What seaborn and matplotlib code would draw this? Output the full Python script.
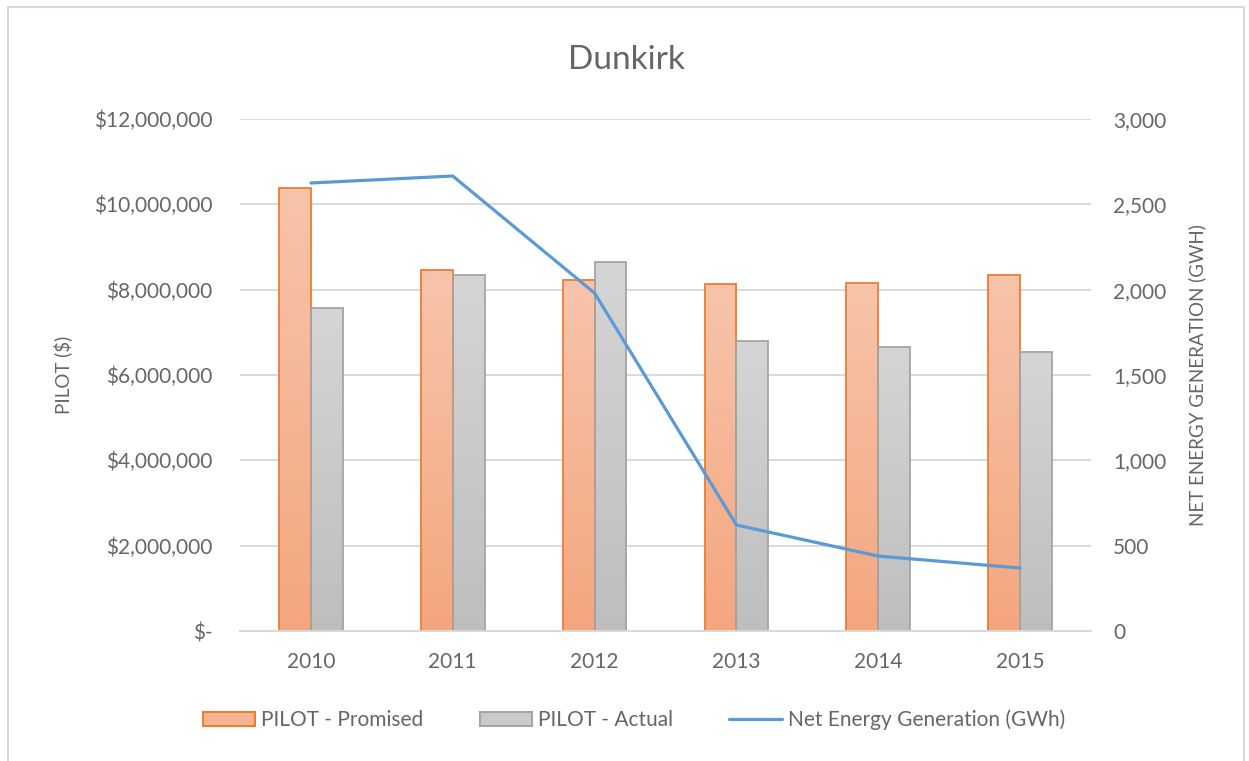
import numpy as np
import pandas as pd
import matplotlib
matplotlib.use("Agg")
import matplotlib.pyplot as plt
import matplotlib.patches as mpatches
from matplotlib.lines import Line2D
from matplotlib.colors import LinearSegmentedColormap
from matplotlib.ticker import FuncFormatter, MultipleLocator
import seaborn as sns

# data
years = ["2010", "2011", "2012", "2013", "2014", "2015"]
pilot_promised = [10390000, 8460000, 8230000, 8130000, 8160000, 8340000]
pilot_actual = [7570000, 8340000, 8650000, 6800000, 6660000, 6540000]
net_energy_gwh = [2625, 2666, 1980, 621, 439, 369]
series_names = ["PILOT - Promised", "PILOT - Actual"]
line_name = "Net Energy Generation (GWh)"

TEXT = "#666666"
GRID = "#D9D9D9"
ORANGE_EDGE = "#ED7D31"
GRAY_EDGE = "#A5A5A5"
BLUE = "#5B9BD5"
grad_colors = {
    "PILOT - Promised": ("#F7C4AB", "#F4A67F"),
    "PILOT - Actual": ("#D5D5D5", "#BEBEBE"),
}
edge_colors = {"PILOT - Promised": ORANGE_EDGE, "PILOT - Actual": GRAY_EDGE}

sns.set_style("white")
plt.rcParams["font.family"] = ["Lato", "DejaVu Sans"]

df = pd.DataFrame({
    "year": years * 2,
    "pilot": pilot_promised + pilot_actual,
    "series": [series_names[0]] * len(years) + [series_names[1]] * len(years),
})

fig = plt.figure(figsize=(12.49, 7.61), dpi=100)
ax = fig.add_axes([240 / 1249, 1 - 631 / 761, 851 / 1249, 512 / 761])

sns.barplot(data=df, x="year", y="pilot", hue="series", hue_order=series_names,
            palette={k: v[1] for k, v in grad_colors.items()},
            width=0.45, gap=0, legend=False, ax=ax)

ax.set_ylim(0, 12000000)
ax.set_xlim(-0.5, len(years) - 0.5)

# gradient fill on each bar (light top -> darker bottom)
grad = np.linspace(1, 0, 256).reshape(-1, 1)
for name, cont in zip(series_names, ax.containers):
    cmap = LinearSegmentedColormap.from_list(name, [grad_colors[name][1], grad_colors[name][0]])
    for bar in cont:
        x0, y0 = bar.get_x(), bar.get_y()
        w, h = bar.get_width(), bar.get_height()
        im = ax.imshow(grad, extent=[x0, x0 + w, y0, y0 + h], cmap=cmap,
                       aspect="auto", zorder=bar.get_zorder() - 0.01, origin="upper")
        im.set_clip_path(bar)
        bar.set_facecolor("none")
        bar.set_edgecolor(edge_colors[name])
        bar.set_linewidth(1.3)
ax.set_xlim(-0.5, len(years) - 0.5)
ax.set_ylim(0, 12000000)
ax.set_aspect("auto")

ax.yaxis.set_major_locator(MultipleLocator(2000000))
ax.yaxis.set_major_formatter(FuncFormatter(lambda v, p: "$-" if v == 0 else f"${v:,.0f}"))
ax.grid(axis="y", color=GRID, linewidth=1.4)
ax.set_axisbelow(True)
for s in ["top", "left", "right"]:
    ax.spines[s].set_visible(False)
ax.spines["bottom"].set_color(GRID)
ax.spines["bottom"].set_linewidth(1.4)
ax.tick_params(axis="y", length=0, pad=20, labelsize=15, labelcolor=TEXT)
ax.tick_params(axis="x", length=0, pad=15, labelsize=15, labelcolor=TEXT)
ax.set_xlabel("")
ax.set_ylabel("PILOT ($)", fontsize=13.5, color=TEXT)
ax.yaxis.label.set_va("center")
ax.yaxis.set_label_coords((63 - 240) / 851, 0.5)

# secondary axis: net energy generation
ax2 = ax.twinx()
sns.lineplot(x=np.arange(len(years)), y=net_energy_gwh, color=BLUE, linewidth=2.3, ax=ax2)
ax2.set_ylim(0, 3000)
ax2.yaxis.set_major_locator(MultipleLocator(500))
ax2.yaxis.set_major_formatter(FuncFormatter(lambda v, p: f"{v:,.0f}"))
ax2.tick_params(axis="y", length=0, pad=16, labelsize=15, labelcolor=TEXT)
for s in ["top", "left", "right", "bottom"]:
    ax2.spines[s].set_visible(False)
ax2.set_ylabel("NET ENERGY GENERATION (GWH)", fontsize=13.5, color=TEXT, rotation=90)
ax2.yaxis.label.set_va("center")
ax2.yaxis.set_label_coords((1197 - 240) / 851, 0.5)
ax2.set_xlim(-0.5, len(years) - 0.5)

fig.text(626 / 1249, 1 - 60 / 761, "Dunkirk", ha="center", va="center",
         fontsize=24, color=TEXT)

handles = [
    mpatches.Patch(facecolor="#F5B592", edgecolor=ORANGE_EDGE, linewidth=1.5),
    mpatches.Patch(facecolor="#CACACA", edgecolor=GRAY_EDGE, linewidth=1.5),
    Line2D([0], [0], color=BLUE, linewidth=2.3),
]
fig.legend(handles, series_names + [line_name], loc="center", ncol=3,
           bbox_to_anchor=(634 / 1249, 1 - 720 / 761), frameon=False,
           fontsize=15, labelcolor=TEXT, handlelength=2.5, handleheight=0.7,
           handletextpad=0.3, columnspacing=2.7)

# light chart border
fig.patches.append(mpatches.Rectangle((8 / 1249, -0.05), (1244 - 8) / 1249, 1.05 - 7 / 761,
                                      transform=fig.transFigure, fill=False,
                                      edgecolor=GRID, linewidth=1.5))

fig.savefig("out.png", dpi=100)
